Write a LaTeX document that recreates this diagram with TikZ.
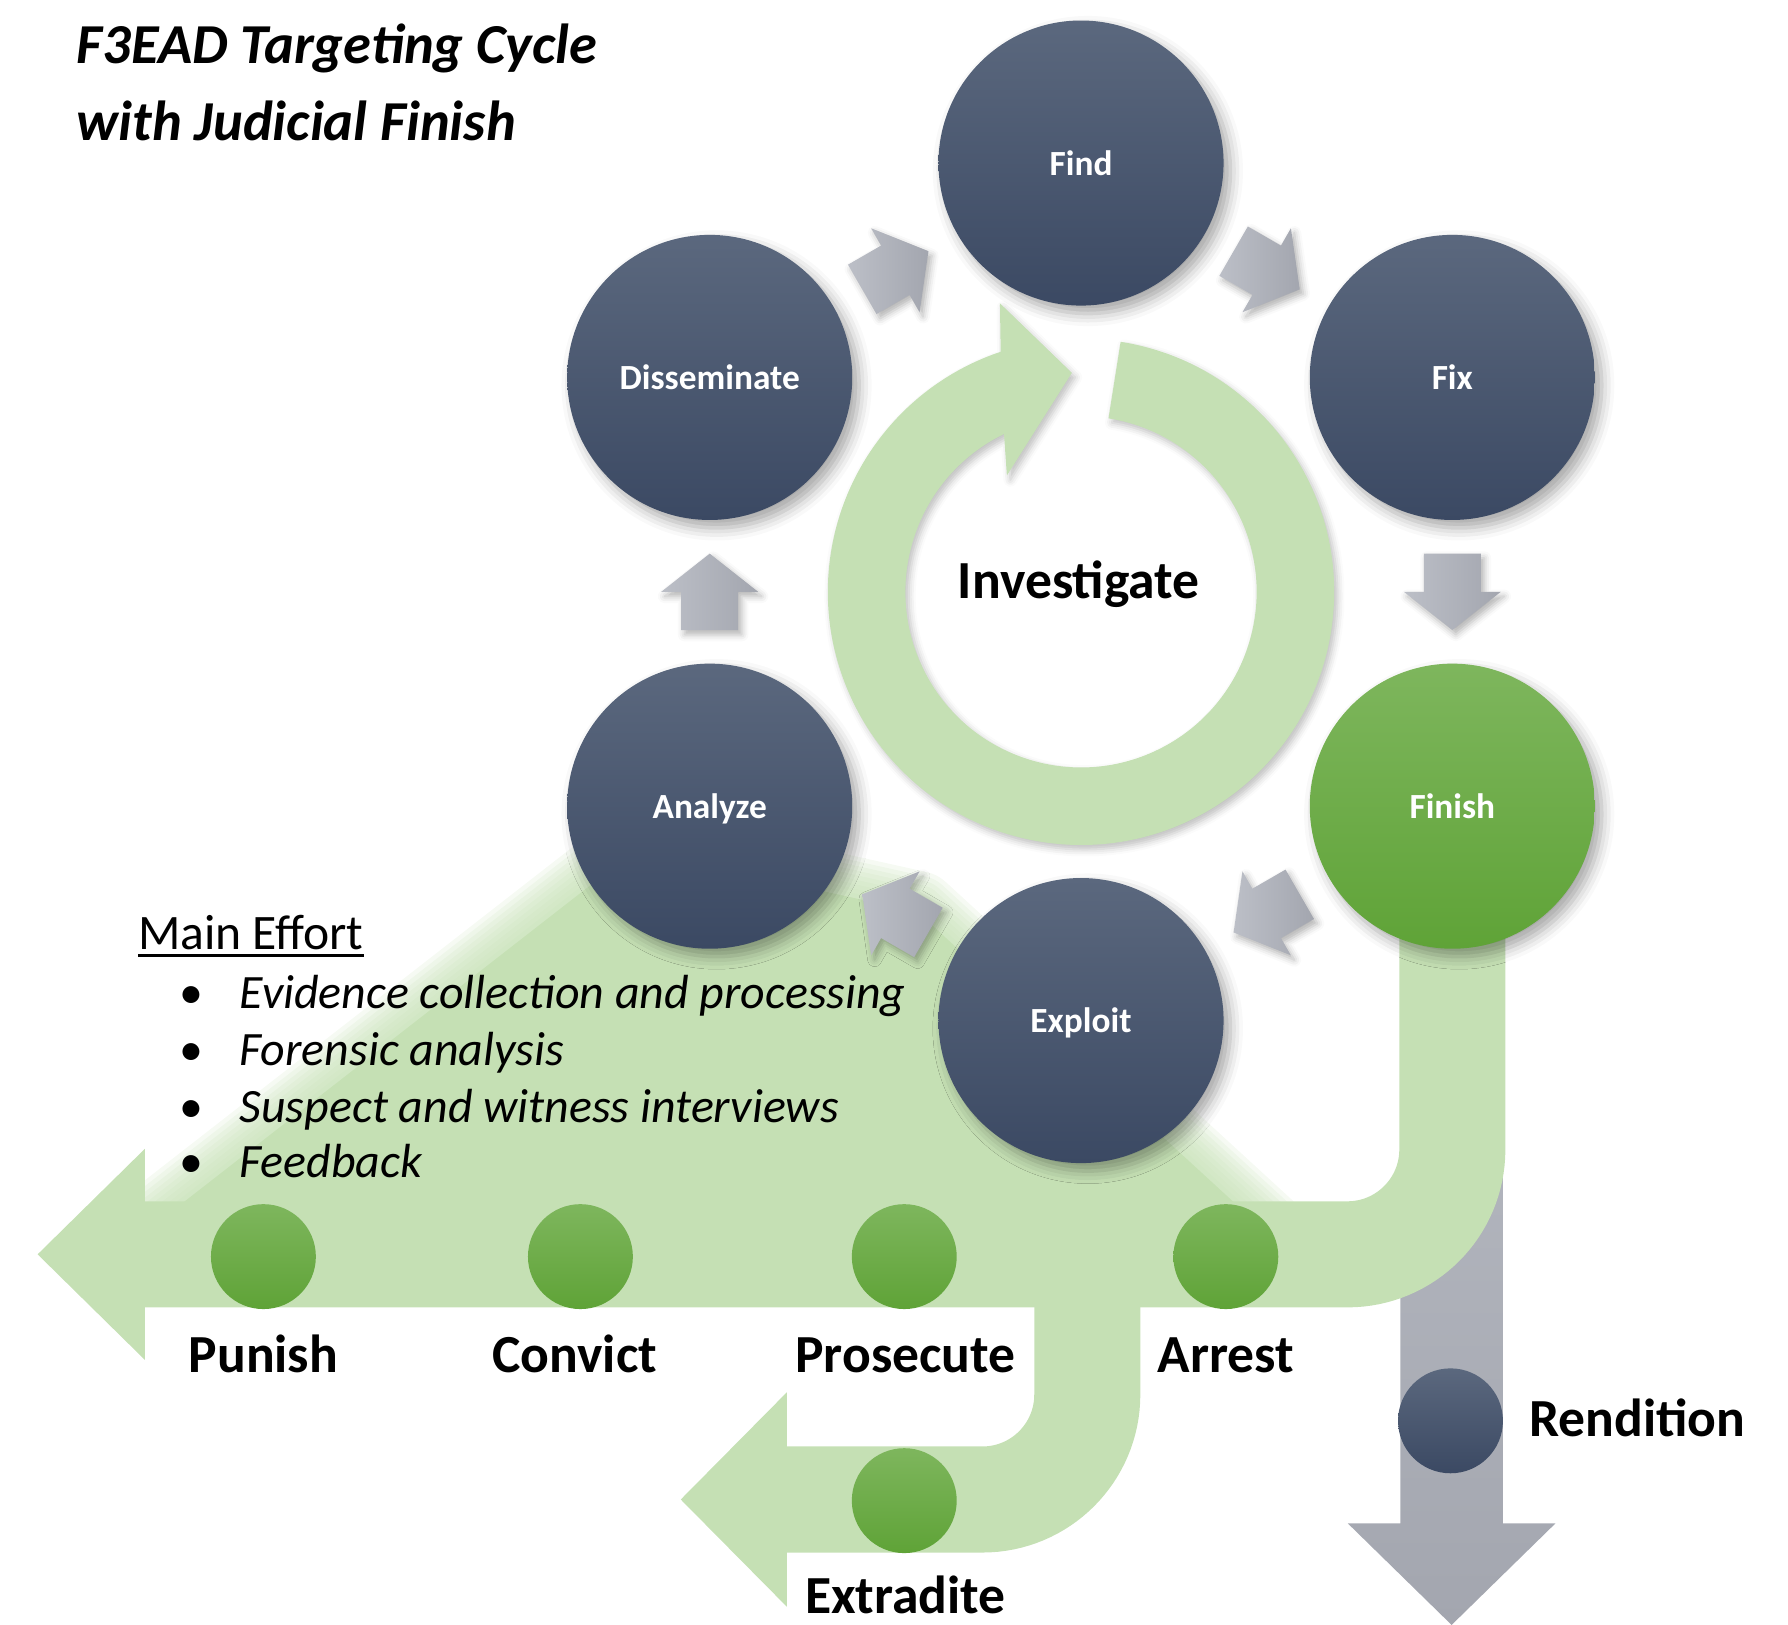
\documentclass[tikz,border=0pt]{standalone}
\usepackage{fontspec}
\setmainfont{Carlito}
\usetikzlibrary{calc,shadows.blur}
\definecolor{lgreen}{RGB}{197,224,180}
\definecolor{slateTop}{RGB}{91,104,126}
\definecolor{slateBot}{RGB}{59,73,99}
\definecolor{greenTop}{RGB}{126,182,93}
\definecolor{greenBot}{RGB}{95,163,55}
\definecolor{grayTop}{RGB}{188,191,199}
\definecolor{grayBot}{RGB}{163,166,175}
\newcommand{\fsz}[1]{\fontsize{#1}{#1}\selectfont}
\newcommand{\myul}[1]{\setbox0\hbox{#1}\rlap{\rule[-6pt]{\wd0}{2.2pt}}\box0}
\begin{document}
\begin{tikzpicture}[x=1pt,y=1pt,
  bigcirc/.style={circle, minimum size=250pt, inner sep=0pt, top color=slateTop, bottom color=slateBot,
     text=white, font={\bfseries\fsz{31}}, text height=21pt, text depth=0pt,
     blur shadow={shadow xshift=6pt, shadow yshift=-7pt, shadow blur radius=11pt, shadow opacity=35}},
  greencirc/.style={bigcirc, top color=greenTop, bottom color=greenBot},
  smallgreen/.style={circle, minimum size=92pt, inner sep=0pt, top color=greenTop, bottom color=greenBot},
  smallslate/.style={smallgreen, top color=slateTop, bottom color=slateBot},
  band/.style={draw=lgreen, line width=93pt, rounded corners=92pt},
  lbl/.style={font={\bfseries\fsz{47}}, anchor=base, inner sep=0pt},
  bulletline/.style={font={\itshape\fsz{42}}, anchor=base west, inner sep=0pt},
  titletext/.style={anchor=base west, inner sep=0pt, font={\bfseries\itshape\fsz{49.5}}},
  blockarrow/.pic={\path[left color=grayTop, right color=grayBot,
      blur shadow={shadow xshift=3pt, shadow yshift=-4pt, shadow blur radius=6pt, shadow opacity=30}]
      (-33.5,25) -- (0,25) -- (0,42.5) -- (33.5,0) -- (0,-42.5) -- (0,-25) -- (-33.5,-25) -- cycle;}
]
\useasboundingbox (0,0) rectangle (1568,1425);
\coordinate (C) at (948,906);
\coordinate (pFind) at ($(C)+(90:376)$);
\coordinate (pFix) at ($(C)+(30:376)$);
\coordinate (pFinish) at ($(C)+(-30:376)$);
\coordinate (pExploit) at ($(C)+(-90:376)$);
\coordinate (pAnalyze) at ($(C)+(-150:376)$);
\coordinate (pDis) at ($(C)+(150:376)$);

% rendition arrow (gray)
\coordinate (rendTip) at (1273,0);
\path[top color=grayTop, bottom color=grayBot]
  (1228,720) -- (1228,89) -- (1182,89) -- (rendTip) -- (1364,89) -- (1318,89) -- (1318,720) -- cycle;

% soft green wedge
\foreach \w in {8,16,...,72}{
  \draw[lgreen, line width=\w pt, draw opacity=0.16, line join=round]
    (558,680) -- (805,625) -- (1110,345) -- (128,345) -- cycle;}
\fill[lgreen] (558,680) -- (805,625) -- (1110,345) -- (128,345) -- cycle;

% green bands
\coordinate (mainBack) at (127,325);
\coordinate (mainTip) at (33,325);
\draw[band] (pFinish) |- (124,325);
\fill[lgreen] ($(mainBack)+(0,92.5)$) -- (mainTip) -- ($(mainBack)+(0,-92.5)$) -- cycle;
\coordinate (branchTop) at (953.5,325);
\coordinate (extBack) at (690,110);
\coordinate (extTip) at (597,110);
\draw[band] (branchTop) |- (687,110);
\fill[lgreen] ($(extBack)+(0,94)$) -- (extTip) -- ($(extBack)+(0,-94)$) -- cycle;

% investigate ring
\path[fill=lgreen, blur shadow={shadow xshift=3pt, shadow yshift=-4pt, shadow blur radius=6pt, shadow opacity=25}]
  ($(C)+(81:222)$) arc[start angle=81, end angle=-251.5, radius=222pt]
  -- ($(C)+(105.7:262.8)$) -- ($(C)+(92.4:192.2)$) -- ($(C)+(122.5:121)$) -- ($(C)+(116:154)$)
  arc[start angle=-244, end angle=81, radius=154pt] -- cycle;
\node[anchor=base, inner sep=0pt, font={\bfseries\fsz{47}}] (inv) at (946,900) {Investigate};

% gray cycle arrows
\pic[rotate=30] at ($(pDis)!0.5!(pFind)$) {blockarrow};
\pic[rotate=-30] at ($(pFind)!0.5!(pFix)$) {blockarrow};
\pic[rotate=-90] at ($(pFix)!0.5!(pFinish)$) {blockarrow};
\pic[rotate=-150] at ($(pFinish)!0.5!(pExploit)$) {blockarrow};
\pic[rotate=150] at ($(pExploit)!0.5!(pAnalyze)$) {blockarrow};
\pic[rotate=90] at ($(pAnalyze)!0.5!(pDis)$) {blockarrow};

% cycle circles
\node[bigcirc] (find) at (pFind) {Find};
\node[bigcirc] (fix) at (pFix) {Fix};
\node[greencirc] (finish) at (pFinish) {Finish};
\node[bigcirc] (exploit) at (pExploit) {Exploit};
\node[bigcirc] (analyze) at (pAnalyze) {Analyze};
\node[bigcirc] (dis) at (pDis) {Disseminate};

% small circles
\node[smallgreen] (cPunish) at (231,323) {};
\node[smallgreen] (cConvict) at (509,323) {};
\node[smallgreen] (cProsecute) at (793,323) {};
\node[smallgreen] (cArrest) at (1075,323) {};
\node[smallgreen] (cExtradite) at (793,109) {};
\node[smallslate] (cRendition) at (1272,179) {};

% labels
\node[lbl] (tPunish) at (231,221) {Punish};
\node[lbl] (tConvict) at (504,221) {Convict};
\node[lbl] (tProsecute) at (794,221) {Prosecute};
\node[lbl] (tArrest) at (1075,221) {Arrest};
\node[lbl] (tExtradite) at (794,10) {Extradite};
\node[lbl, anchor=base west] (tRendition) at (1341,165) {Rendition};

% title
\node[titletext] (title1) at (67,1369.5) {F3EAD Targeting Cycle};
\node[titletext] (title2) at (67,1302) {with Judicial Finish};

% main effort
\node[anchor=base west, inner sep=0pt, font={\fsz{43.5}}] (me) at (121,592) {\myul{Main Effort}};
\node[bulletline] (b1) at (157,541) {\makebox[53pt][l]{\upshape\textbullet}Evidence collection and processing};
\node[bulletline] (b2) at (157,491) {\makebox[53pt][l]{\upshape\textbullet}Forensic analysis};
\node[bulletline] (b3) at (157,441) {\makebox[53pt][l]{\upshape\textbullet}Suspect and witness interviews};
\node[bulletline] (b4) at (157,392) {\makebox[53pt][l]{\upshape\textbullet}Feedback};
\end{tikzpicture}
\end{document}
